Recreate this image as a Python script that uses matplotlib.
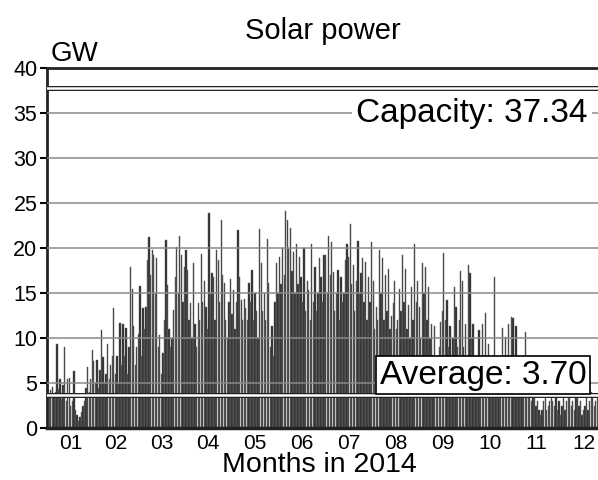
import numpy as np
import matplotlib
matplotlib.use('Agg')
import matplotlib.pyplot as plt

plt.rcParams['font.family'] = ['Liberation Sans', 'DejaVu Sans']

# daily peak solar output in GW
jan = [4.5, 3.8, 4.2, 4.6, 3.5, 4.0, 9.4, 4.3, 5.5, 3.2, 4.8, 9.0, 3.0, 5.5, 5.6, 2.5,
       3.0, 6.4, 2.0, 1.5, 0.8, 1.2, 1.8, 2.5, 3.0, 4.5, 6.8, 4.0, 5.5, 8.7, 7.5]
feb = [5.0, 7.6, 4.5, 6.5, 10.9, 7.9, 5.0, 6.0, 9.4, 5.5, 7.0, 8.0, 13.3, 6.0, 8.0, 5.0,
       11.7, 7.0, 11.6, 8.0, 11.1, 6.0, 9.0, 17.9, 15.5, 11.3, 7.0, 9.0]
mar = [10.5, 15.8, 8.0, 13.3, 11.0, 13.5, 18.7, 21.2, 17.0, 19.8, 19.2, 15.0, 18.9, 9.0,
       10.3, 6.0, 8.3, 12.0, 20.9, 15.9, 11.0, 9.0, 10.0, 13.1, 16.8, 20.1, 15.0, 21.4,
       19.2, 14.0, 17.9]
apr = [19.8, 17.6, 12.0, 13.9, 10.0, 18.3, 11.6, 9.0, 13.9, 12.0, 19.4, 14.0, 16.4, 13.5,
       11.0, 23.9, 15.0, 17.2, 16.8, 12.0, 19.8, 18.7, 14.0, 23.1, 17.0, 16.1, 12.0, 10.0,
       14.0, 16.6]
may = [12.7, 15.3, 11.0, 14.0, 22.0, 16.8, 14.2, 12.0, 14.4, 13.3, 12.0, 16.1, 14.0, 17.6,
       12.0, 15.0, 13.0, 10.0, 22.1, 18.3, 13.0, 15.0, 12.0, 21.0, 16.1, 9.0, 11.3, 8.0,
       14.0, 18.3, 15.0]
jun = [19.0, 16.0, 20.0, 17.0, 24.1, 23.1, 20.0, 22.2, 17.5, 19.6, 15.0, 20.5, 16.0, 19.0,
       16.8, 14.0, 20.0, 13.0, 16.4, 15.3, 12.0, 20.5, 14.0, 17.9, 13.0, 15.0, 18.9, 16.8,
       14.0, 19.2]
jul = [19.2, 15.0, 21.3, 17.0, 20.7, 17.4, 13.0, 15.0, 17.6, 12.0, 16.8, 14.0, 15.0, 18.7,
       20.5, 19.0, 22.7, 16.0, 18.1, 13.0, 16.4, 20.8, 15.0, 17.2, 18.9, 14.0, 18.5, 12.0,
       16.8, 14.0, 20.7]
aug = [16.4, 11.0, 13.5, 12.0, 19.8, 15.0, 18.9, 12.0, 17.0, 13.0, 17.7, 11.0, 12.5, 13.9,
       16.3, 11.0, 12.0, 15.5, 13.0, 19.2, 14.0, 17.7, 11.0, 13.7, 10.0, 15.7, 12.0, 20.5,
       14.0, 16.4, 13.5]
sep = [10.0, 18.3, 15.0, 17.9, 12.0, 15.7, 10.0, 11.6, 8.0, 11.3, 7.0, 6.0, 9.0, 11.8,
       13.0, 19.5, 12.0, 14.2, 9.0, 11.3, 8.0, 10.0, 15.7, 13.5, 9.0, 12.0, 17.5, 16.4,
       9.0, 11.6]
oct_ = [8.0, 18.1, 17.2, 10.0, 11.6, 7.0, 6.0, 8.0, 10.9, 7.0, 11.6, 6.0, 12.8, 5.0, 9.4,
        6.0, 5.0, 7.0, 16.8, 6.0, 8.0, 5.0, 7.0, 11.1, 6.0, 10.1, 5.0, 11.6, 6.0, 12.3, 12.2]
nov = [5.0, 11.3, 4.0, 6.0, 5.0, 4.0, 6.0, 10.7, 4.0, 3.5, 5.0, 3.0, 4.0, 3.5, 2.5, 3.0,
       2.0, 1.5, 2.0, 3.0, 3.5, 2.0, 2.5, 3.0, 3.5, 3.0, 2.5, 3.5, 2.0, 3.0]
dec = [1.5, 2.5, 3.5, 2.0, 3.0, 4.0, 3.5, 2.5, 3.0, 2.0, 3.5, 4.0, 2.5, 3.0, 1.5, 2.0,
       2.5, 3.5, 2.0, 3.0, 4.0, 3.5, 2.5, 3.0, 3.5, 3.0, 2.5, 3.5, 3.0, 2.0, 3.5]

months = [jan, feb, mar, apr, may, jun, jul, aug, sep, oct_, nov, dec]
month_labels = ['01', '02', '03', '04', '05', '06', '07', '08', '09', '10', '11', '12']

capacity = 37.34
capacity_line = 37.85   # where the double line sits in the picture
average = 3.70


def main():
    peaks = np.concatenate([np.array(m) for m in months])
    days = np.arange(len(peaks)) + 0.5
    month_len = np.array([len(m) for m in months])
    month_mid = np.cumsum(month_len) - month_len / 2.0

    fig = plt.figure(figsize=(5.98, 4.8), dpi=100)
    ax = fig.add_axes([0.0786, 0.108, 0.937, 0.75])

    ax.bar(days, peaks, width=0.85, color='#262626', edgecolor='#6e6e6e',
           linewidth=0.35, zorder=2)

    for y in range(5, 40, 5):
        ax.axhline(y, color='#8a8a8a', lw=1.1, zorder=3)

    # double lines for capacity and average
    ax.axhline(capacity_line, color='#222222', lw=3.6, zorder=4)
    ax.axhline(capacity_line, color='white', lw=1.8, zorder=5)
    ax.axhline(average, color='#222222', lw=3.6, zorder=4)
    ax.axhline(average, color='white', lw=1.8, zorder=5)

    ax.text(277, 35.0, 'Capacity: %.2f' % capacity, fontsize=24, ha='center',
            va='center', zorder=6,
            bbox=dict(boxstyle='square,pad=0.12', fc='white', ec='none'))
    ax.text(284, 5.9, 'Average: %.2f' % average, fontsize=24, ha='center',
            va='center', zorder=6,
            bbox=dict(boxstyle='square,pad=0.1', fc='white', ec='black', lw=1.2))

    ax.set_xlim(0, 365)
    ax.set_ylim(0, 40)
    ax.set_yticks(range(0, 41, 5))
    ax.set_xticks(month_mid)
    ax.set_xticklabels(month_labels)
    ax.tick_params(axis='y', labelsize=15.5, length=5, width=1.5, pad=2)
    ax.tick_params(axis='x', labelsize=15, length=0, pad=4)

    for s in ['top', 'left', 'bottom']:
        ax.spines[s].set_linewidth(2)
        ax.spines[s].set_color('#222222')
    ax.spines['bottom'].set_linewidth(2.5)
    ax.spines['right'].set_visible(False)

    fig.text(0.54, 0.935, 'Solar power', fontsize=21, ha='center', va='center')
    fig.text(0.085, 0.872, 'GW', fontsize=20, ha='left', va='baseline')
    ax.set_xlabel('Months in 2014', fontsize=20.5, va='top')
    ax.xaxis.set_label_coords(0.486, -0.066)

    fig.savefig('out.png', dpi=100)


if __name__ == "__main__":
    main()
